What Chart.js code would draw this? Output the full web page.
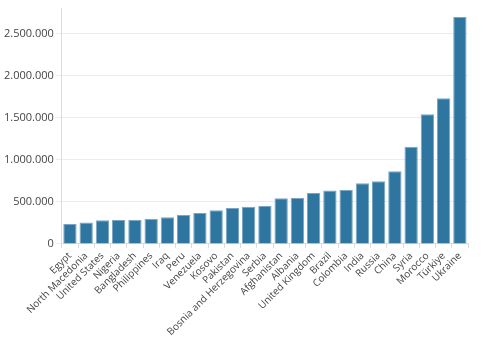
<!DOCTYPE html>
<html>
<head>
<meta charset="utf-8">
<script src="https://cdn.jsdelivr.net/npm/chart.js@4"></script>
<style>
  html, body { margin: 0; padding: 0; background: #fff; }
  #wrap { width: 483px; height: 344px; }
</style>
</head>
<body>
<div id="wrap"><canvas id="chart"></canvas></div>
<script>
"use strict";

// Countries, sorted ascending by value
const countries = [
  "Egypt", "North Macedonia", "United States", "Nigeria", "Bangladesh",
  "Philippines", "Iraq", "Peru", "Venezuela", "Kosovo", "Pakistan",
  "Bosnia and Herzegovina", "Serbia", "Afghanistan", "Albania",
  "United Kingdom", "Brazil", "Colombia", "India", "Russia", "China",
  "Syria", "Morocco", "Türkiye", "Ukraine",
];

const values = [
  238000, 254000, 282000, 286000, 288000,
  301000, 318000, 345000, 369000, 401000, 429000,
  444000, 452000, 544000, 548000,
  607000, 635000, 643000, 722000, 746000, 865000,
  1158000, 1542000, 1735000, 2700000,
];

const yTicks = [0, 500000, 1000000, 1500000, 2000000, 2500000];

const C = {
  bar:    "#2e75a0",
  edge:   "#7aa6c4",
  text:   "#444444",
  grid:   "#ececec",
  axis:   "#dcdcdc",
};

// 2500000 -> "2.500.000"
const fmt = (v) => String(Math.round(v)).replace(/\B(?=(\d{3})+(?!\d))/g, ".");

Chart.defaults.font.family = "'Open Sans', sans-serif";
Chart.defaults.font.size = 11;
Chart.defaults.color = C.text;

new Chart(document.getElementById("chart"), {
  type: "bar",
  data: {
    labels: countries,
    datasets: [{
      data: values,
      backgroundColor: C.bar,
      borderColor: C.edge,
      borderWidth: 1,
      categoryPercentage: 1.0,
      barPercentage: 0.82,
    }],
  },
  options: {
    responsive: true,
    maintainAspectRatio: false,
    animation: false,
    layout: { padding: { left: 2, right: 15, top: 8, bottom: 4 } },
    plugins: {
      legend: { display: false },
      tooltip: { enabled: false },
    },
    scales: {
      x: {
        grid: { drawOnChartArea: false, tickLength: 4, color: C.axis },
        border: { color: C.axis },
        ticks: {
          maxRotation: 45, minRotation: 45, autoSkip: false, padding: 2,
          color: C.text, font: { size: 10 },
        },
      },
      y: {
        min: 0,
        max: 2800000,
        afterBuildTicks: (axis) => { axis.ticks = yTicks.map((v) => ({ value: v })); },
        grid: { color: C.grid, tickLength: 6 },
        border: { color: C.axis },
        ticks: { callback: (v) => fmt(v), padding: 2, color: C.text },
      },
    },
  },
});
</script>
</body>
</html>
